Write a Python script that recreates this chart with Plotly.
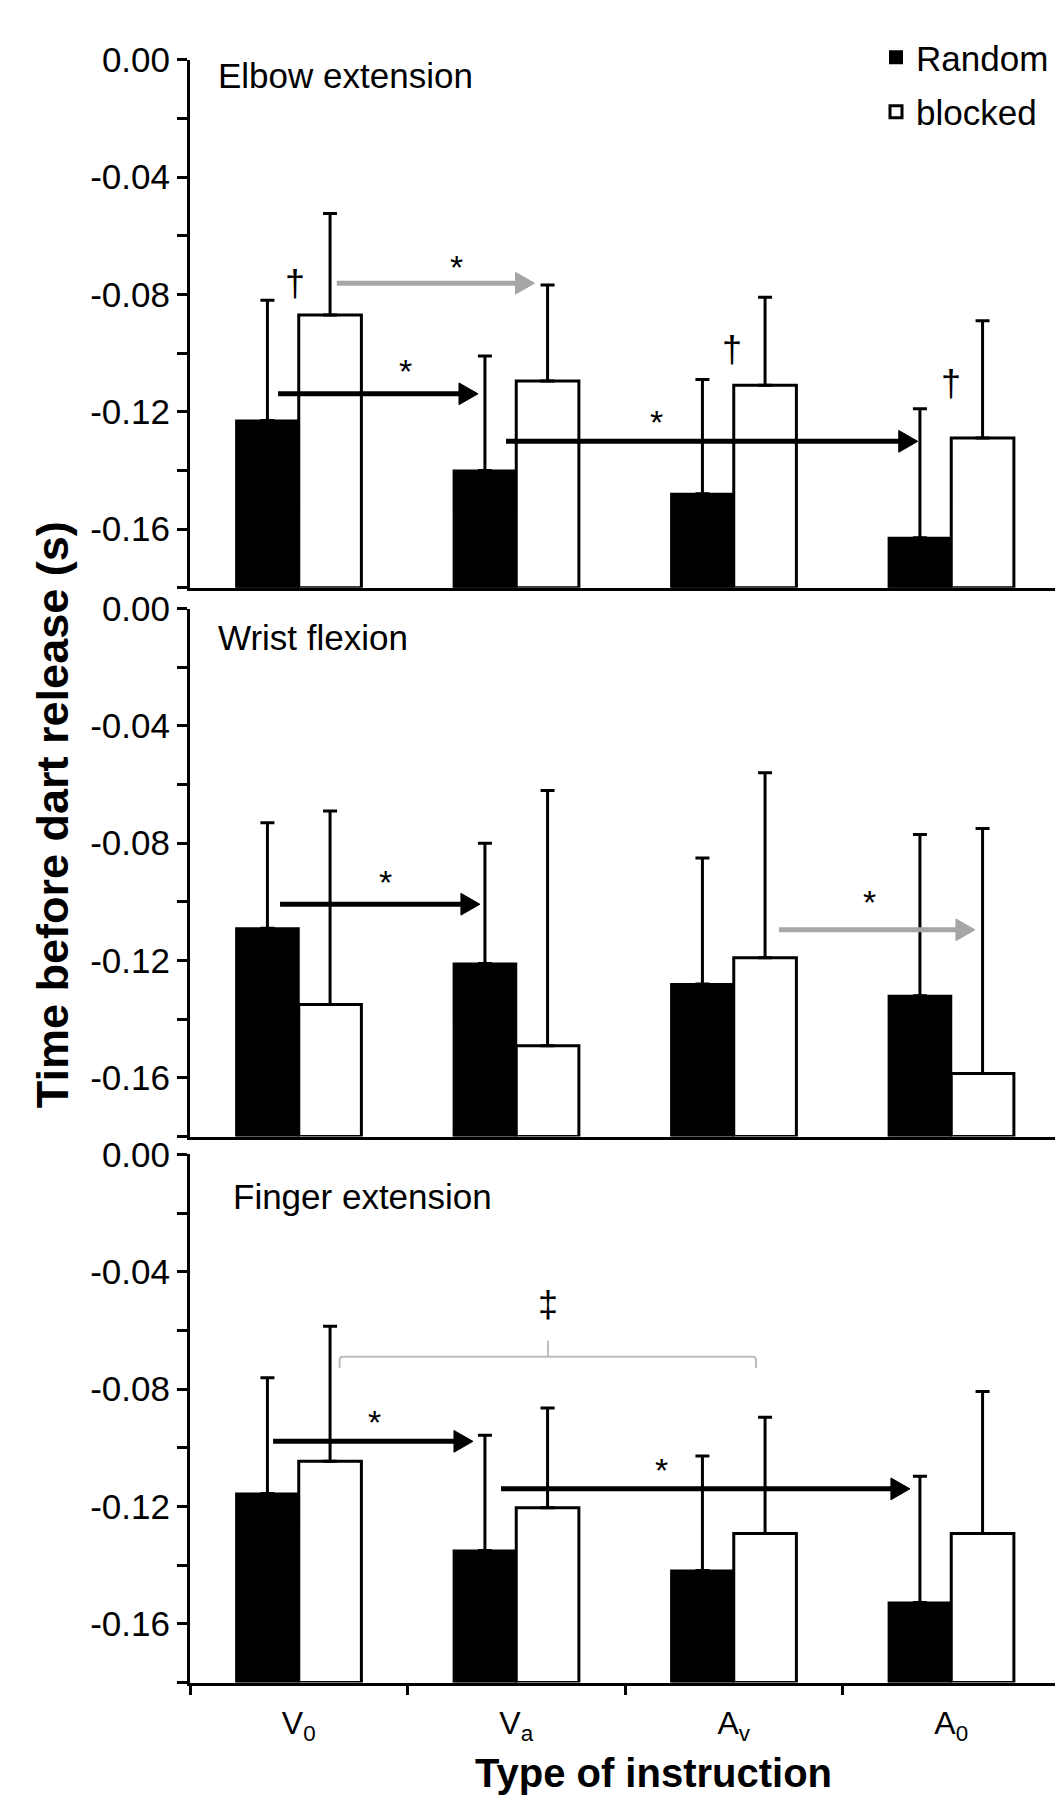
import plotly.graph_objects as go
from plotly.subplots import make_subplots

# ---------------- data ----------------
categories = ["V<sub>0</sub>", "V<sub>a</sub>", "A<sub>v</sub>", "A<sub>0</sub>"]
panel_titles = ["Elbow extension", "Wrist flexion", "Finger extension"]
series_names = ["Random", "blocked"]

elbow_random = [-0.123, -0.140, -0.148, -0.163]
elbow_random_sd = [0.041, 0.039, 0.039, 0.044]
elbow_blocked = [-0.087, -0.1095, -0.111, -0.129]
elbow_blocked_sd = [0.0346, 0.0327, 0.030, 0.040]

wrist_random = [-0.109, -0.121, -0.128, -0.132]
wrist_random_sd = [0.036, 0.041, 0.043, 0.055]
wrist_blocked = [-0.135, -0.149, -0.119, -0.1585]
wrist_blocked_sd = [0.066, 0.087, 0.063, 0.0835]

finger_random = [-0.1156, -0.135, -0.1418, -0.1527]
finger_random_sd = [0.0395, 0.0393, 0.039, 0.043]
finger_blocked = [-0.1046, -0.1204, -0.1292, -0.1292]
finger_blocked_sd = [0.046, 0.034, 0.0396, 0.0484]

y_tick_values = [0.00, -0.02, -0.04, -0.06, -0.08, -0.10, -0.12, -0.14, -0.16, -0.18]
y_tick_labels = ["0.00", "", "-0.04", "", "-0.08", "", "-0.12", "", "-0.16", ""]
Y_MIN, Y_MAX = -0.18, 0.0

# significance arrows: (panel, x_tail, x_head, y, colour)
arrows = [
    (1, 0.175, 1.084, -0.0762, "#a6a6a6"),
    (1, -0.095, 0.824, -0.1139, "black"),
    (1, 0.953, 2.846, -0.1301, "black"),
    (2, -0.086, 0.833, -0.1008, "black"),
    (2, 2.208, 3.109, -0.1095, "#a6a6a6"),
    (3, -0.118, 0.801, -0.0978, "black"),
    (3, 0.930, 2.810, -0.1140, "black"),
]
# symbols: (panel, x, y, text)
marks = [
    (1, -0.017, -0.0762, "†"),
    (1, 0.723, -0.0674, "*"),
    (1, 0.493, -0.1028, "*"),
    (1, 1.643, -0.1200, "*"),
    (1, 1.992, -0.0987, "†"),
    (1, 3.000, -0.1105, "†"),
    (2, 0.401, -0.0897, "*"),
    (2, 2.626, -0.0967, "*"),
    (3, 0.346, -0.0877, "*"),
    (3, 1.666, -0.1043, "*"),
    (3, 1.146, -0.0513, "‡"),
]
# bracket in finger panel: x_left, x_right, x_mid, y_line, y_ends, y_mid_top
bracket = (3, 0.188, 2.102, 1.146, -0.0690, -0.0728, -0.0635)

FONT = "Liberation Sans, Arial, sans-serif"

panels = [
    (elbow_random, elbow_random_sd, elbow_blocked, elbow_blocked_sd),
    (wrist_random, wrist_random_sd, wrist_blocked, wrist_blocked_sd),
    (finger_random, finger_random_sd, finger_blocked, finger_blocked_sd),
]

fig = make_subplots(rows=3, cols=1)

for i, (r, rsd, b, bsd) in enumerate(panels):
    row = i + 1
    fig.add_trace(go.Bar(
        x=categories, y=[v - Y_MIN for v in r], base=Y_MIN,
        name=series_names[0], legendgroup=series_names[0], showlegend=(i == 0),
        marker=dict(color="black", line=dict(color="black", width=2)),
        error_y=dict(type="data", symmetric=False, array=rsd, arrayminus=[0] * len(rsd),
                     color="black", thickness=3, width=7),
    ), row=row, col=1)
    fig.add_trace(go.Bar(
        x=categories, y=[v - Y_MIN for v in b], base=Y_MIN,
        name=series_names[1], legendgroup=series_names[1], showlegend=(i == 0),
        marker=dict(color="white", line=dict(color="black", width=3)),
        error_y=dict(type="data", symmetric=False, array=bsd, arrayminus=[0] * len(bsd),
                     color="black", thickness=3, width=7),
    ), row=row, col=1)

# panel geometry (pixels of a 1063 x 1810 page)
W, H = 1063, 1810
X0_PX, X1_PX = 182, 1052
x_dom = [X0_PX / W, X1_PX / W]
y_doms = [(32, 566), (587, 1121), (1139, 1673)]

for i, (top, bot) in enumerate(y_doms):
    row = i + 1
    fig.update_yaxes(
        row=row, col=1, domain=[1 - bot / H, 1 - top / H], range=[Y_MIN, Y_MAX],
        tickmode="array", tickvals=y_tick_values, ticktext=y_tick_labels,
        ticks="outside", ticklen=10, tickwidth=3, tickcolor="black",
        showline=True, linecolor="black", linewidth=3, showgrid=False, zeroline=False,
        tickfont=dict(family=FONT, size=35, color="black"),
    )
    fig.update_xaxes(
        row=row, col=1, domain=x_dom, type="category",
        categoryorder="array", categoryarray=categories, range=[-0.5, 3.5],
        showline=True, linecolor="black", linewidth=3, showgrid=False, zeroline=False,
        ticks="outside" if row == 3 else "", tickson="boundaries", ticklen=9, tickwidth=3,
        tickcolor="black", showticklabels=(row == 3), ticklabelstandoff=10,
        tickfont=dict(family=FONT, size=32, color="black"),
    )

def axnames(panel):
    suf = "" if panel == 1 else str(panel)
    return "x" + suf, "y" + suf

# data units per pixel (for arrow-head size)
x_per_px = 4.0 / (X1_PX - X0_PX)
y_per_px = (Y_MAX - Y_MIN) / (y_doms[0][1] - y_doms[0][0])
head_len = 19 * x_per_px
head_half = 11 * y_per_px

shapes = []
for panel, x0, x1, y, col in arrows:
    xr, yr = axnames(panel)
    shapes.append(dict(type="line", xref=xr, yref=yr, x0=x0, x1=x1 - head_len * 0.9,
                       y0=y, y1=y, line=dict(color=col, width=5), layer="above"))
    shapes.append(dict(
        type="path", xref=xr, yref=yr, layer="above",
        path=f"M {x1 - head_len},{y - head_half} L {x1},{y} L {x1 - head_len},{y + head_half} Z",
        fillcolor=col, line=dict(color=col, width=1),
    ))

annotations = []
for panel, x, y, t in marks:
    xr, yr = axnames(panel)
    annotations.append(dict(
        x=x, y=y, xref=xr, yref=yr, text=t, showarrow=False,
        xanchor="center", yanchor="middle",
        font=dict(family=FONT, size=34 if t == "*" else 36, color="black"),
        yshift=-10 if t == "*" else 0,
    ))

title_pos = [(208, 48), (208, 616), (223, 1182)]
for i, (name, (px, py)) in enumerate(zip(panel_titles, title_pos)):
    annotations.append(dict(
        x=px / W, y=1 - py / H, xref="paper", yref="paper", xanchor="left", yanchor="middle",
        text=name, showarrow=False, font=dict(family=FONT, size=35, color="black"),
    ))

annotations.append(dict(
    x=44 / W, y=1 - 796 / H, xref="paper", yref="paper", textangle=-90,
    xanchor="center", yanchor="middle",
    text="<b>Time before dart release (s)</b>", showarrow=False,
    font=dict(family=FONT, size=45, color="black"),
))
annotations.append(dict(
    x=645 / W, y=1 - 1764 / H, xref="paper", yref="paper",
    xanchor="center", yanchor="middle",
    text="<b>Type of instruction</b>", showarrow=False,
    font=dict(family=FONT, size=40, color="black"),
))

# bracket shape
bp, bxl, bxr, bxm, byl, bye, bym = bracket
bxr_ref, byr_ref = axnames(bp)
rx = 0.012
ry = 0.0012
path = (f"M {bxl},{bye} L {bxl},{byl - ry} Q {bxl},{byl} {bxl + rx},{byl} "
        f"L {bxr - rx},{byl} Q {bxr},{byl} {bxr},{byl - ry} L {bxr},{bye} "
        f"M {bxm},{byl} L {bxm},{bym}")
shapes.append(dict(type="path", path=path, xref=bxr_ref, yref=byr_ref,
                   line=dict(color="#bdbdbd", width=2), layer="above"))

fig.update_layout(
    width=W, height=H, margin=dict(l=0, r=0, t=0, b=0),
    paper_bgcolor="white", plot_bgcolor="white",
    barmode="group", bargap=0.424, bargroupgap=0,
    annotations=annotations, shapes=shapes,
    font=dict(family=FONT, color="black"),
    legend=dict(x=868 / W, y=1.0, xanchor="left", yanchor="top",
                font=dict(family=FONT, size=35, color="black"),
                bgcolor="rgba(0,0,0,0)", itemwidth=30, tracegroupgap=6),
    showlegend=True,
)

fig.write_html("out.html")
